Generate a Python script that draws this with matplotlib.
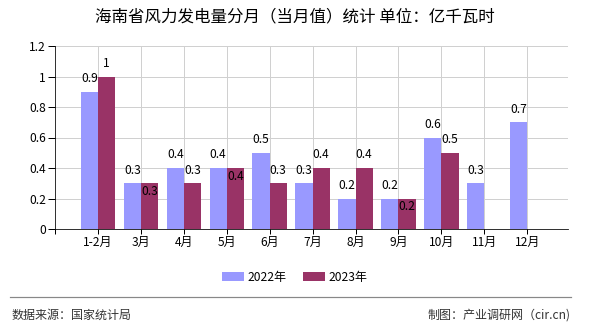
import matplotlib.pyplot as plt
import numpy as np

plt.rcParams['font.family'] = ['Noto Sans CJK SC', 'DejaVu Sans']

# data
months = ['1-2月', '3月', '4月', '5月', '6月', '7月', '8月', '9月', '10月', '11月', '12月']
v2022 = [0.9, 0.3, 0.4, 0.4, 0.5, 0.3, 0.2, 0.2, 0.6, 0.3, 0.7]
v2023 = [1.0, 0.3, 0.3, 0.4, 0.3, 0.4, 0.4, 0.2, 0.5, np.nan, np.nan]
series_names = ['2022年', '2023年']
colors = ['#9999FF', '#993366']

W, H = 590, 330
fig = plt.figure(figsize=(W / 72, H / 72), dpi=72)
ax = fig.add_axes([55 / W, (H - 229) / H, (568 - 55) / W, (229 - 46) / H])

x = np.arange(len(months))
bw = 0.4
ax.bar(x - bw / 2, v2022, bw, color=colors[0], label=series_names[0], zorder=3)
ax.bar(x + bw / 2, v2023, bw, color=colors[1], label=series_names[1], zorder=3)

# value labels (2023 label goes inside the bar when both are equal)
for i in range(len(months)):
    a, b = v2022[i], v2023[i]
    ax.annotate('%g' % a, (x[i] - bw / 2, a), xytext=(0, 13), textcoords='offset points',
                ha='center', va='center', fontsize=12, zorder=5)
    if not np.isnan(b):
        dy = -8 if a == b else 13
        ax.annotate('%g' % b, (x[i] + bw / 2, b), xytext=(0, dy), textcoords='offset points',
                    ha='center', va='center', fontsize=12, zorder=5)

ax.set_xlim(-1, 10.95)
ax.set_ylim(0, 1.2)
yt = [0, 0.2, 0.4, 0.6, 0.8, 1.0, 1.2]
ax.set_yticks(yt)
ax.set_yticklabels(['%g' % t for t in yt], fontsize=12)
ax.set_xticks(np.arange(-1, 11))
ax.set_xticklabels([''] + months, fontsize=12)
ax.tick_params(axis='y', length=7, width=1, pad=2)
ax.tick_params(axis='x', length=5, width=1, pad=2)

# grid
for t in yt[1:]:
    ax.axhline(t, color='#d0d0d0', lw=1, zorder=1)
for xi in list(x) + [10.95]:
    ax.axvline(xi, color='#d0d0d0', lw=1, zorder=1)
for s in ['top', 'right']:
    ax.spines[s].set_visible(False)
ax.spines['left'].set_color('black')
ax.spines['bottom'].set_color('black')
ax.spines['bottom'].set_zorder(4)

fig.text(0.5, 1 - 17 / H, '海南省风力发电量分月（当月值）统计 单位：亿千瓦时',
         ha='center', va='center', fontsize=16.5)

fig.legend(loc='center', bbox_to_anchor=(0.5, 1 - 277 / H), ncol=2, frameon=False,
           fontsize=12, handlelength=1.8, handleheight=0.75, columnspacing=1.4,
           handletextpad=0.3)

fig.add_artist(plt.Line2D([10 / W, 571 / W], [1 - 297 / H, 1 - 297 / H],
                          color='#888888', lw=1.2))
fig.text(12 / W, 1 - 315 / H, '数据来源：国家统计局', ha='left', va='center',
         fontsize=12, color='#333333')
fig.text(571 / W, 1 - 315 / H, '制图：产业调研网（cir.cn)', ha='right', va='center',
         fontsize=12, color='#333333')

fig.savefig('out.png', dpi=72)
